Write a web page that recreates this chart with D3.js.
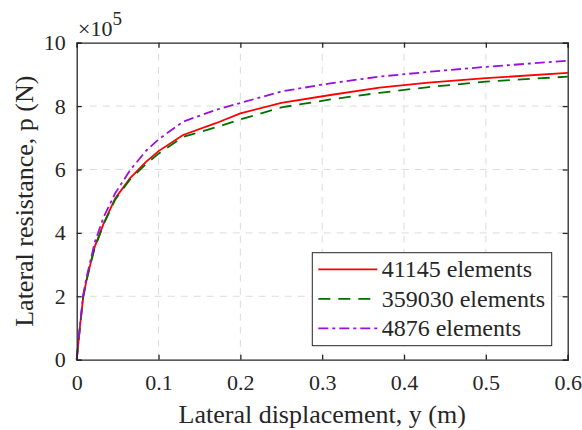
<!DOCTYPE html>
<html>
<head>
<meta charset="utf-8">
<script src="https://cdn.jsdelivr.net/npm/d3@7"></script>
<style>
    body { margin: 0; background: #fff; }
    text { font-family: "Liberation Serif", "Times New Roman", serif; fill: #262626; }
</style>
</head>
<body>
<div id="chart"></div>
<script>
// displacement y (m), shared by all three runs
const dispX = [0, 0.004, 0.008, 0.012, 0.018, 0.022, 0.033, 0.047, 0.065, 0.085, 0.1, 0.13, 0.17, 0.2, 0.25, 0.31, 0.37, 0.43, 0.5, 0.6]
// lateral resistance, units of 1e5 N
const p41145 = [0, 1.04, 1.99, 2.51, 3.15, 3.56, 4.30, 5.09, 5.72, 6.25, 6.58, 7.09, 7.46, 7.77, 8.10, 8.35, 8.58, 8.74, 8.88, 9.05]
const p359030 = [0, 1.04, 1.99, 2.50, 3.13, 3.52, 4.28, 5.05, 5.68, 6.18, 6.50, 7.03, 7.33, 7.58, 7.96, 8.21, 8.42, 8.60, 8.77, 8.93]
const p4876 = [0, 1.08, 2.05, 2.60, 3.25, 3.70, 4.50, 5.25, 5.97, 6.60, 6.95, 7.51, 7.88, 8.10, 8.46, 8.72, 8.93, 9.08, 9.24, 9.43]

const seriesNames = ["41145 elements", "359030 elements", "4876 elements"]
const xTicks = [0, 0.1, 0.2, 0.3, 0.4, 0.5, 0.6]
const yTicks = [0, 2, 4, 6, 8, 10]

const width = 582, height = 430
const margin = { left: 76.7, top: 42.7, right: 582 - 567.7, bottom: 430 - 359.7 }

const svg = d3.select("#chart").append("svg")
    .attr("width", width)
    .attr("height", height)

const x = d3.scaleLinear().domain([0, 0.6]).range([margin.left, width - margin.right])
const y = d3.scaleLinear().domain([0, 10]).range([height - margin.bottom, margin.top])

const axisColor = "#262626"

// grid
const grid = svg.append("g")
grid.selectAll(".gx").data(xTicks.slice(1, -1)).enter().append("line")
    .attr("x1", d => x(d)).attr("x2", d => x(d))
    .attr("y1", y(0)).attr("y2", y(10))
    .attr("stroke", "#dcdcdc").attr("stroke-width", 1).attr("stroke-dasharray", "7,6")
grid.selectAll(".gy").data(yTicks.slice(1, -1)).enter().append("line")
    .attr("y1", d => y(d)).attr("y2", d => y(d))
    .attr("x1", x(0)).attr("x2", x(0.6))
    .attr("stroke", "#dcdcdc").attr("stroke-width", 1).attr("stroke-dasharray", "7,6")

// curves
const series = [
    { name: seriesNames[0], vals: p41145, color: "#ff0000", dash: null },
    { name: seriesNames[1], vals: p359030, color: "#007000", dash: "12,8" },
    { name: seriesNames[2], vals: p4876, color: "#9a10e0", dash: "10,4,3,4" }
]

const line = d3.line()
    .x(d => x(d[0]))
    .y(d => y(d[1]))

series.forEach(s => {
    svg.append("path")
        .datum(dispX.map((v, i) => [v, s.vals[i]]))
        .attr("d", line)
        .attr("fill", "none")
        .attr("stroke", s.color)
        .attr("stroke-width", 1.8)
        .attr("stroke-dasharray", s.dash)
})

// axes, ticks inside on all four sides
const tickLen = 5
svg.append("g").attr("transform", `translate(0,${y(0)})`)
    .call(d3.axisBottom(x).tickValues(xTicks).tickSize(-tickLen).tickPadding(15).tickFormat(d3.format("")))
svg.append("g").attr("transform", `translate(0,${y(10)})`)
    .call(d3.axisTop(x).tickValues(xTicks).tickSize(-tickLen).tickFormat(""))
svg.append("g").attr("transform", `translate(${x(0)},0)`)
    .call(d3.axisLeft(y).tickValues(yTicks).tickSize(-tickLen).tickPadding(11).tickFormat(d3.format("")))
svg.append("g").attr("transform", `translate(${x(0.6)},0)`)
    .call(d3.axisRight(y).tickValues(yTicks).tickSize(-tickLen).tickFormat(""))

svg.selectAll(".domain").attr("stroke", axisColor).attr("stroke-width", 1.3)
svg.selectAll(".tick line").attr("stroke", axisColor).attr("stroke-width", 1.3)
svg.selectAll(".tick text").attr("font-size", 22).attr("fill", axisColor)

// exponent label
const expo = svg.append("text").attr("x", 78).attr("y", 36).attr("font-size", 22)
expo.append("tspan").text("\u00d710")
expo.append("tspan").attr("dy", -11).attr("font-size", 19).text("5")

// axis titles
svg.append("text")
    .attr("x", (x(0) + x(0.6)) / 2).attr("y", 423)
    .attr("text-anchor", "middle").attr("font-size", 26)
    .text("Lateral displacement, y (m)")
svg.append("text")
    .attr("transform", `translate(33,${(y(0) + y(10)) / 2}) rotate(-90)`)
    .attr("text-anchor", "middle").attr("font-size", 26)
    .text("Lateral resistance, p (N)")

// legend
const legend = svg.append("g")
legend.append("rect")
    .attr("x", 312.3).attr("y", 252.7).attr("width", 239.4).attr("height", 93)
    .attr("fill", "#fff").attr("stroke", axisColor).attr("stroke-width", 1)
series.forEach((s, i) => {
    const ly = 269.3 + i * 29.5
    legend.append("line")
        .attr("x1", 318.3).attr("x2", 377.3).attr("y1", ly).attr("y2", ly)
        .attr("stroke", s.color).attr("stroke-width", 1.8)
        .attr("stroke-dasharray", s.dash)
    legend.append("text")
        .attr("x", 381.7).attr("y", ly + 8)
        .attr("font-size", 24)
        .text(s.name)
})
</script>
</body>
</html>
